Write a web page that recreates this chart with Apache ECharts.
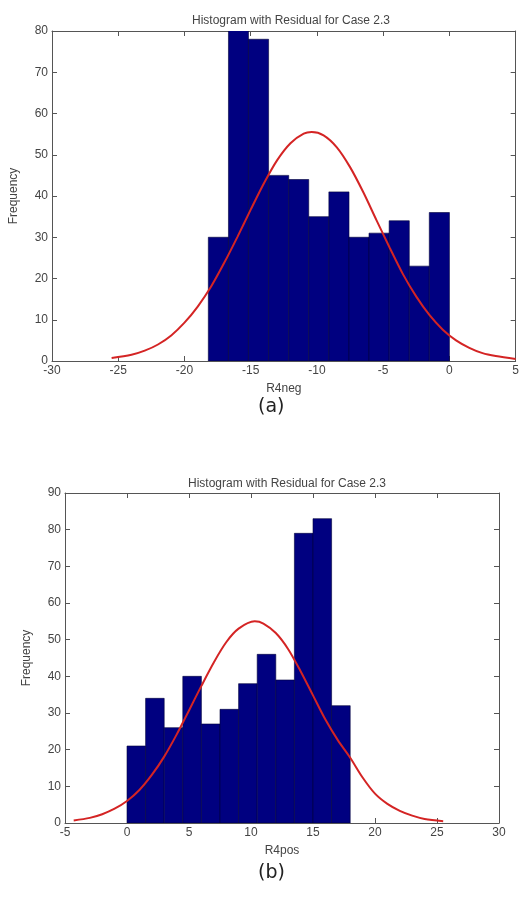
<!DOCTYPE html>
<html>
<head>
<meta charset="utf-8">
<style>
  html, body { margin: 0; padding: 0; background: #fff; }
  #chart { width: 522px; height: 897px; }
</style>
<script src="https://cdn.jsdelivr.net/npm/echarts@6/dist/echarts.min.js"></script>
</head>
<body>
<div id="chart"></div>
<script>
// (a) R4neg 直方图
const negEdges = [-18.2, -16.68, -15.17, -13.65, -12.13, -10.62, -9.1, -7.58, -6.07, -4.55, -3.03, -1.52, 0]
const negCounts = [30, 84, 78, 45, 44, 35, 41, 30, 31, 34, 23, 36]
const negCurveX = [-25.5, -24, -23, -22, -21, -20, -19, -18, -17, -16, -15, -14, -13, -12, -11, -10.4, -9.5, -8.5, -7.5, -6.5, -5.5, -4.5, -3.5, -2.5, -1.5, -0.5, 0.5, 1.5, 2.5, 3.5, 5]
const negCurveY = [0.7, 1.5, 2.5, 4.0, 6.2, 9.3, 13.2, 18.0, 23.8, 30.1, 36.7, 43.1, 48.7, 52.8, 55.1, 55.5, 54.7, 51.8, 47.0, 40.9, 34.1, 27.4, 21.0, 15.6, 11.1, 7.6, 5.0, 3.2, 1.9, 1.2, 0.5]

// (b) R4pos 直方图
const posEdges = [0, 1.5, 3, 4.5, 6, 7.5, 9, 10.5, 12, 13.5, 15, 16.5, 18]
const posCounts = [21, 34, 26, 40, 27, 31, 38, 46, 39, 79, 83, 32]
const posCurveX = [-4.3, -3, -2, -1, 0, 1, 2, 3, 4, 5, 6, 7, 8, 9, 10.3, 11, 12, 13, 14, 15, 16, 17, 18, 19, 20, 21, 22, 23, 24, 25.5]
const posCurveY = [0.7, 1.4, 2.4, 3.9, 6.0, 9.0, 13.1, 18.1, 24.1, 30.7, 37.4, 43.8, 49.3, 53.0, 55, 54.4, 51.8, 47.4, 41.4, 34.8, 28.2, 22.6, 17.8, 12.4, 8.0, 5.2, 3.3, 2.0, 1.1, 0.5]

const titleText = 'Histogram with Residual for Case 2.3'
const textColor = '#444'
const fontFamily = 'Liberation Sans, Arial, sans-serif'

const toBins = (edges, counts) => counts.map((c, i) => [edges[i], edges[i + 1], c])
const toPoints = (xs, ys) => xs.map((x, i) => [x, ys[i]])

const renderBin = (params, api) => {
  const p0 = api.coord([api.value(0), api.value(2)])
  const p1 = api.coord([api.value(1), 0])
  return {
    type: 'rect',
    shape: { x: p0[0], y: p0[1], width: p1[0] - p0[0], height: p1[1] - p0[1] },
    style: { fill: '#000080', stroke: '#00003a', lineWidth: 0.6 }
  }
}

const lineStyle = { color: '#555' }
const mainX = (gi, min, max, name) => ({
  type: 'value', gridIndex: gi, min, max, interval: 5,
  name, nameLocation: 'middle', nameGap: 22,
  nameTextStyle: { color: textColor, fontSize: 12, fontFamily },
  axisLine: { onZero: false, lineStyle },
  axisTick: { inside: true, length: 5, lineStyle },
  axisLabel: { color: textColor, fontSize: 12, fontFamily, margin: 4 },
  splitLine: { show: false }
})
const boxX = (gi, min, max) => ({
  type: 'value', gridIndex: gi, min, max, interval: 5, position: 'top',
  axisLine: { onZero: false, lineStyle },
  axisTick: { inside: true, length: 5, lineStyle },
  axisLabel: { show: false }, splitLine: { show: false }
})
const mainY = (gi, max) => ({
  type: 'value', gridIndex: gi, min: 0, max, interval: 10, position: 'left',
  name: 'Frequency', nameLocation: 'middle', nameGap: 32, nameRotate: 90,
  nameTextStyle: { color: textColor, fontSize: 12, fontFamily },
  axisLine: { show: true, onZero: false, lineStyle },
  axisTick: { show: true, inside: true, length: 5, lineStyle },
  axisLabel: { color: textColor, fontSize: 12, fontFamily, margin: 4 },
  splitLine: { show: false }
})
const boxY = (gi, max) => ({
  type: 'value', gridIndex: gi, min: 0, max, interval: 10, position: 'right',
  axisLine: { show: true, onZero: false, lineStyle },
  axisTick: { show: true, inside: true, length: 5, lineStyle },
  axisLabel: { show: false }, splitLine: { show: false }
})

const myChart = echarts.init(document.getElementById('chart'))

const option = {
  animation: false,
  backgroundColor: '#fff',
  title: [
    { text: titleText, left: 286, top: 10, textAlign: 'center',
      textStyle: { color: textColor, fontSize: 12, fontWeight: 'normal', fontFamily } },
    { text: titleText, left: 282, top: 473, textAlign: 'center',
      textStyle: { color: textColor, fontSize: 12, fontWeight: 'normal', fontFamily } }
  ],
  grid: [
    { left: 52, top: 31, width: 469, height: 330 },
    { left: 65, top: 493, width: 434, height: 330 }
  ],
  xAxis: [
    mainX(0, -30, 5, 'R4neg'),
    mainX(1, -5, 30, 'R4pos'),
    boxX(0, -30, 5),
    boxX(1, -5, 30)
  ],
  yAxis: [
    mainY(0, 80),
    mainY(1, 90),
    boxY(0, 80),
    boxY(1, 90)
  ],
  series: [
    { type: 'custom', xAxisIndex: 0, yAxisIndex: 0, clip: true,
      renderItem: renderBin, encode: { x: [0, 1], y: 2 }, data: toBins(negEdges, negCounts) },
    { type: 'line', xAxisIndex: 0, yAxisIndex: 0, smooth: 0.3, symbol: 'none',
      lineStyle: { color: '#d42424', width: 2 }, data: toPoints(negCurveX, negCurveY) },
    { type: 'custom', xAxisIndex: 1, yAxisIndex: 1, clip: true,
      renderItem: renderBin, encode: { x: [0, 1], y: 2 }, data: toBins(posEdges, posCounts) },
    { type: 'line', xAxisIndex: 1, yAxisIndex: 1, smooth: 0.3, symbol: 'none',
      lineStyle: { color: '#d42424', width: 2 }, data: toPoints(posCurveX, posCurveY) }
  ],
  graphic: [
    { type: 'text', left: 258, top: 398,
      style: { text: '(a)', fill: '#222', font: '19px "DejaVu Sans", sans-serif' } },
    { type: 'text', left: 258, top: 864,
      style: { text: '(b)', fill: '#222', font: '19px "DejaVu Sans", sans-serif' } }
  ]
}

myChart.setOption(option)
</script>
</body>
</html>
